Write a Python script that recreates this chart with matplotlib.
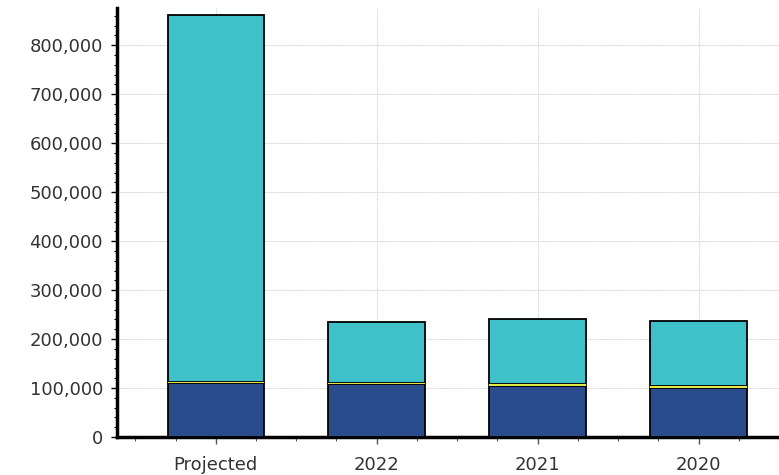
import matplotlib
matplotlib.use("Agg")
import matplotlib.pyplot as plt
import numpy as np
from matplotlib.ticker import FuncFormatter, MultipleLocator, FixedLocator

categories = ["Projected", "2022", "2021", "2020"]
navy_vals = [110000, 108000, 105000, 101000]
yellow_vals = [3000, 3000, 3000, 3000]
cyan_vals = [748000, 123000, 133000, 133000]
y_ticks = [0, 100000, 200000, 300000, 400000, 500000, 600000, 700000, 800000]

navy_c = "#2B4C8C"
yellow_c = "#E3E84A"
cyan_c = "#3FC1C9"

fig = plt.figure(figsize=(7.79, 4.75), dpi=100)
ax = fig.add_axes([0.150, 0.080, 0.850, 0.903])

x = np.arange(len(categories))
w = 0.6
navy = np.array(navy_vals)
yel = np.array(yellow_vals)
cy = np.array(cyan_vals)
ax.bar(x, navy, w, color=navy_c, edgecolor="black", linewidth=1.3, zorder=3)
ax.bar(x, cy, w, bottom=navy + yel, color=cyan_c, edgecolor="black", linewidth=1.3, zorder=3)
ax.bar(x, yel, w, bottom=navy, color=yellow_c, edgecolor="none", linewidth=0, zorder=4)

ax.set_xlim(-0.615, 3.5)
ax.set_ylim(0, 876000)
ax.set_yticks(y_ticks)
ax.yaxis.set_major_formatter(FuncFormatter(lambda v, p: f"{int(v):,}"))
ax.yaxis.set_minor_locator(MultipleLocator(20000))
ax.set_xticks(x)
ax.set_xticklabels(categories)
ax.xaxis.set_minor_locator(FixedLocator(np.arange(-0.5, 3.6, 0.25)))

ax.grid(True, which="major", color="#d0d0d0", linewidth=0.6, linestyle=(0, (2, 1)), zorder=0)

for s in ["top", "right"]:
    ax.spines[s].set_visible(False)
ax.spines["left"].set_linewidth(2.5)
ax.spines["bottom"].set_linewidth(2.5)

ax.tick_params(axis="y", which="major", length=4, width=1, direction="out", pad=6,
               labelsize=13, labelcolor="#333333")
ax.tick_params(axis="y", which="minor", length=2, width=0.8, direction="out")
ax.tick_params(axis="x", which="major", length=5, width=1, direction="out", pad=9,
               labelsize=13, labelcolor="#333333", color="#555555")
ax.tick_params(axis="x", which="minor", length=3, width=0.8, direction="out", color="#555555")

fig.savefig("out.png", dpi=100)
